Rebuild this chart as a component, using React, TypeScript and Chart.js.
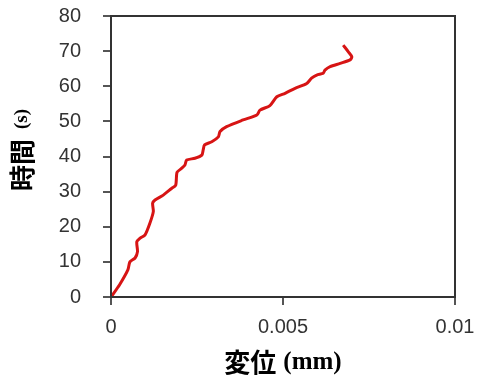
import React, { useEffect, useRef } from "react";
import { Chart, registerables } from "chart.js";

Chart.register(...registerables);

// Displacement (mm) and time (s)
const displacement = [
  0, 0.00025, 0.00049, 0.00055, 0.0007, 0.00077, 0.00075, 0.00084, 0.00099, 0.00113,
  0.00123, 0.00121, 0.00128, 0.00152, 0.00176, 0.00188, 0.00192, 0.00205, 0.00215,
  0.0022, 0.00244, 0.00264, 0.00268, 0.00272, 0.00293, 0.00312, 0.00317, 0.00336,
  0.00384, 0.00424, 0.00433, 0.00462, 0.00482, 0.00506, 0.00535, 0.00569, 0.00583,
  0.00598, 0.00617, 0.00622, 0.00637, 0.00666, 0.00695, 0.007, 0.0069, 0.00675,
];
const time = [
  0, 3.5, 7.7, 10.0, 11.1, 12.9, 15.7, 16.7, 17.7, 21.0,
  24.3, 26.7, 27.6, 29.0, 30.9, 31.8, 35.5, 36.6, 37.6,
  39.0, 39.5, 40.4, 41.9, 43.3, 44.2, 45.6, 47.1, 48.5,
  50.4, 51.8, 53.2, 54.5, 57.0, 58.0, 59.4, 60.8, 62.3,
  63.2, 63.7, 64.6, 65.6, 66.5, 67.5, 68.4, 69.8, 71.7,
];

const yTicks = [0, 10, 20, 30, 40, 50, 60, 70, 80];
const xTicks = [0, 0.005, 0.01];

const yTitleCJK = "時間";
const yTitleUnit = "(s)";
const xTitleCJK = "変位";
const xTitleUnit = "(mm)";

const CJK_FONT = "bold 26px 'Noto Sans CJK JP', sans-serif";
const UNIT_FONT_Y = "bold 19px 'Liberation Serif', serif";
const UNIT_FONT_X = "bold 25px 'Liberation Serif', serif";

const framePlugin = {
  id: "frameAndTitles",
  afterDraw(chart: any) {
    const { ctx, chartArea } = chart;
    ctx.save();
    ctx.strokeStyle = "#333";
    ctx.lineWidth = 2;
    ctx.strokeRect(chartArea.left, chartArea.top, chartArea.right - chartArea.left, chartArea.bottom - chartArea.top);

    ctx.fillStyle = "#000";
    ctx.textBaseline = "middle";
    ctx.textAlign = "left";

    // X title
    ctx.font = CJK_FONT;
    const w1 = ctx.measureText(xTitleCJK).width;
    ctx.font = UNIT_FONT_X;
    const gap = 7;
    const w2 = ctx.measureText(xTitleUnit).width;
    const xc = (chartArea.left + chartArea.right) / 2;
    const x0 = xc - (w1 + gap + w2) / 2;
    const yT = 362;
    ctx.font = CJK_FONT;
    ctx.fillText(xTitleCJK, x0, yT);
    ctx.font = UNIT_FONT_X;
    ctx.fillText(xTitleUnit, x0 + w1 + gap, yT + 1);

    // Y title (rotated)
    ctx.save();
    ctx.translate(22, 150);
    ctx.rotate(-Math.PI / 2);
    ctx.font = CJK_FONT;
    const v1 = ctx.measureText(yTitleCJK).width;
    ctx.font = UNIT_FONT_Y;
    const v2 = ctx.measureText(yTitleUnit).width;
    const g2 = 10;
    const s0 = -(v1 + g2 + v2) / 2;
    ctx.font = CJK_FONT;
    ctx.fillText(yTitleCJK, s0, 0);
    ctx.font = UNIT_FONT_Y;
    ctx.fillText(yTitleUnit, s0 + v1 + g2, 0);
    ctx.restore();

    ctx.restore();
  },
};

export default function App() {
  const ref = useRef<HTMLCanvasElement | null>(null);

  useEffect(() => {
    document.body.style.margin = "0";
    const canvas = ref.current;
    if (!canvas) return;
    const points = displacement.map((x, i) => ({ x, y: time[i] }));
    const tickFont = { family: "'Liberation Sans', sans-serif", size: 20 };
    const chart = new Chart(canvas, {
      type: "scatter",
      data: {
        datasets: [
          {
            data: points,
            showLine: true,
            borderColor: "rgb(215, 20, 20)",
            borderWidth: 3,
            pointRadius: 0,
            tension: 0.25,
            fill: false,
          },
        ],
      },
      options: {
        animation: false,
        responsive: false,
        devicePixelRatio: 1,
        layout: { padding: { top: 16, right: 23, left: 0, bottom: 0 } },
        plugins: { legend: { display: false }, tooltip: { enabled: false } },
        scales: {
          x: {
            type: "linear",
            min: xTicks[0],
            max: xTicks[xTicks.length - 1],
            afterBuildTicks: (scale: any) => {
              scale.ticks = xTicks.map((v) => ({ value: v }));
            },
            afterFit: (scale: any) => {
              scale.height = 86;
              scale.paddingLeft = 0;
              scale.paddingRight = 0;
            },
            grid: {
              drawOnChartArea: false,
              drawTicks: true,
              tickLength: 8,
              color: "#555",
              lineWidth: 2,
            },
            border: { display: true, color: "#333", width: 2 },
            ticks: {
              padding: 10,
              color: "#333",
              font: tickFont,
              maxRotation: 0,
              callback: (v: any) => String(parseFloat(Number(v).toFixed(4))),
            },
          },
          y: {
            type: "linear",
            min: yTicks[0],
            max: yTicks[yTicks.length - 1],
            afterBuildTicks: (scale: any) => {
              scale.ticks = yTicks.map((v) => ({ value: v }));
            },
            afterFit: (scale: any) => {
              scale.width = 111;
              scale.paddingTop = 0;
              scale.paddingBottom = 0;
            },
            grid: {
              drawOnChartArea: false,
              drawTicks: true,
              tickLength: 8,
              color: "#555",
              lineWidth: 2,
            },
            border: { display: true, color: "#333", width: 2 },
            ticks: {
              padding: 22,
              color: "#333",
              font: tickFont,
              callback: (v: any) => String(v),
            },
          },
        },
      },
      plugins: [framePlugin],
    } as any);
    return () => chart.destroy();
  }, []);

  return (
    <div style={{ width: 478, height: 383, background: "#fff" }}>
      <canvas ref={ref} width={478} height={383} style={{ display: "block" }} />
    </div>
  );
}
